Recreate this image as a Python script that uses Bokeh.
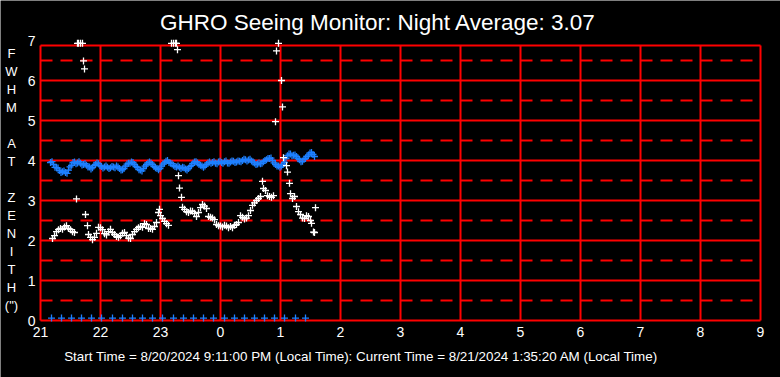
from bokeh.plotting import figure
from bokeh.models import Label, Range1d
from bokeh.core.properties import value
from bokeh.embed import file_html
from bokeh.resources import INLINE

# ---------------- text ----------------
title_text = "GHRO Seeing Monitor: Night Average: 3.07"
footer_text = ("Start Time = 8/20/2024 9:11:00 PM (Local Time): "
               "Current Time = 8/21/2024 1:35:20 AM (Local Time)")
y_label_chars = ["F", "W", "H", "M", "", "A", "T", "", "Z", "E", "N", "I", "T", "H", "(\")"]

# ---------------- axes ----------------
x_ticks = [21, 22, 23, 24, 25, 26, 27, 28, 29, 30, 31, 32, 33]
x_tick_labels = ["21", "22", "23", "0", "1", "2", "3", "4", "5", "6", "7", "8", "9"]
y_ticks = [0, 1, 2, 3, 4, 5, 6, 7]
y_tick_labels = ["0", "1", "2", "3", "4", "5", "6", "7"]
y_half_lines = [0.5, 1.5, 2.5, 3.5, 4.5, 5.5, 6.5]
y_solid_lines = [0, 1, 2, 3, 4, 5, 6, 6.875]
frame_top = 6.875
start_hour = 21

# ---------------- data (minutes after 21:00, FWHM arcsec) ----------------
blue_minutes = list(range(10, 275, 3))
blue_fwhm = [
    3.95, 3.90, 3.82, 3.75, 3.72, 3.70, 3.76, 3.88, 3.96, 3.94,
    3.93, 3.90, 3.88, 3.84, 3.82, 3.90, 3.92, 3.85, 3.84, 3.83,
    3.82, 3.84, 3.86, 3.80, 3.77, 3.86, 3.93, 3.96, 3.90, 3.82,
    3.76, 3.80, 3.90, 3.96, 3.90, 3.82, 3.77, 3.86, 3.94, 4.00,
    3.93, 3.88, 3.84, 3.83, 3.83, 3.79, 3.80, 3.88, 3.96, 3.94,
    3.88, 3.83, 3.90, 3.96, 3.95, 3.93, 3.96, 3.95, 3.97, 3.94,
    3.96, 3.98, 3.96, 3.98, 4.00, 4.02, 4.01, 3.99, 3.94, 3.91,
    3.92, 3.97, 4.02, 4.05, 4.00, 3.90, 3.86, 3.86, 3.95, 4.12,
    4.16, 4.13, 4.10, 4.02, 3.98, 4.05, 4.14, 4.20, 4.10,
]
blue_minutes_b = [x + 1.5 for x in range(10, 273, 3)]
blue_fwhm_b = [
    3.97, 3.83, 3.81, 3.70, 3.74, 3.68, 3.84, 3.95, 3.92, 3.97,
    3.89, 3.92, 3.84, 3.79, 3.88, 3.94, 3.87, 3.81, 3.86, 3.80,
    3.85, 3.82, 3.84, 3.76, 3.80, 3.91, 3.93, 3.95, 3.85, 3.77,
    3.74, 3.86, 3.94, 3.94, 3.85, 3.80, 3.80, 3.91, 3.98, 3.95,
    3.92, 3.85, 3.86, 3.80, 3.82, 3.76, 3.85, 3.93, 3.97, 3.90,
    3.86, 3.86, 3.94, 3.93, 3.97, 3.92, 3.98, 3.93, 3.99, 3.93,
    3.99, 3.95, 3.99, 3.97, 4.03, 3.99, 4.03, 3.96, 3.90, 3.94,
    3.93, 4.00, 4.05, 4.06, 3.94, 3.86, 3.83, 3.90, 4.05, 4.16,
    4.12, 4.14, 4.05, 3.97, 4.03, 4.10, 4.19, 4.15,
]

white_minutes = [
    12, 14, 16, 18, 20, 22, 24, 26, 28, 30, 32, 34, 36, 37, 38, 40, 42, 43, 44, 45,
    47, 48, 50, 52, 54, 56, 58, 60, 62, 64, 66, 68, 70, 72, 74, 76, 78, 80, 82, 84,
    86, 88, 90, 92, 94, 96, 98, 100, 102, 104, 106, 108, 110, 112, 114, 116, 118, 119, 120, 122,
    124, 126, 128, 131, 133, 135, 136, 137, 138, 139, 141, 142, 144, 146, 148, 150, 152, 154, 156, 158,
    160, 162, 164, 166, 168, 170, 172, 174, 176, 178, 180, 182, 184, 186, 188, 190, 192, 194, 196, 198,
    200, 202, 204, 206, 208, 210, 212, 214, 216, 218, 220, 222, 223, 225, 227, 229, 231, 233, 235, 236,
    238, 241, 242, 243, 246, 247, 249, 250, 252, 254, 256, 258, 260, 262, 264, 266, 268, 270, 271, 273,
    274, 275,
]
white_fwhm = [
    2.05, 2.12, 2.22, 2.27, 2.30, 2.28, 2.34, 2.37, 2.30, 2.27, 2.22, 2.20, 3.04, 6.93, 6.93, 6.93, 6.93, 6.49, 6.29, 2.65,
    2.37, 2.15, 2.08, 2.02, 2.08, 2.18, 2.33, 2.32, 2.27, 2.17, 2.14, 2.22, 2.28, 2.20, 2.15, 2.10, 2.08, 2.12, 2.18, 2.20,
    2.12, 2.06, 2.05, 2.15, 2.22, 2.28, 2.32, 2.35, 2.33, 2.42, 2.40, 2.30, 2.30, 2.28, 2.35, 2.45, 2.70, 2.78, 2.62, 2.55,
    2.48, 2.42, 2.38, 6.93, 6.93, 6.93, 6.93, 6.77, 3.62, 3.31, 3.08, 2.83, 2.78, 2.72, 2.70, 2.74, 2.73, 2.68, 2.60, 2.70,
    2.82, 2.90, 2.86, 2.80, 2.60, 2.58, 2.56, 2.52, 2.40, 2.37, 2.36, 2.34, 2.38, 2.36, 2.32, 2.35, 2.32, 2.38, 2.40, 2.45,
    2.62, 2.58, 2.54, 2.56, 2.62, 2.75, 2.88, 2.94, 3.00, 3.05, 3.10, 3.48, 3.30, 3.25, 3.12, 3.10, 3.08, 3.12, 4.97, 6.74,
    6.93, 6.00, 5.34, 4.07, 3.87, 3.71, 3.43, 3.17, 3.05, 3.10, 2.85, 2.72, 2.65, 2.56, 2.55, 2.62, 2.60, 2.50, 2.43, 2.21,
    2.20, 2.82,
]

marker_minutes = [11, 21, 31, 41, 51, 61, 72, 82, 92, 102, 112, 122, 133,
                  143, 153, 163, 173, 184, 194, 204, 214, 224, 234, 244, 255, 265]
marker_level = 0.06

# ---------------- colours / fonts ----------------
RED = "#FF0000"
BLUE = "#1E80FF"
WHITE = "#FFFFFF"
FONT = "Liberation Sans"

# ---------------- layout (pixels) ----------------
W, H = 780, 377
PX_LEFT, PX_RIGHT = 40, 760        # x = 21 .. 33
PX_BOTTOM = 320                    # y = 0
PX_PER_UNIT_Y = 40
px_per_hour = (PX_RIGHT - PX_LEFT) / (x_ticks[-1] - x_ticks[0])
x_start = x_ticks[0] - PX_LEFT / px_per_hour
x_end = x_ticks[0] + (W - PX_LEFT) / px_per_hour
y_start = -(H - PX_BOTTOM) / PX_PER_UNIT_Y
y_end = PX_BOTTOM / PX_PER_UNIT_Y


def to_hours(mins):
    return [start_hour + mm / 60.0 for mm in mins]


p = figure(width=W, height=H, output_backend="svg", toolbar_location=None, title=None,
           x_range=Range1d(x_start, x_end), y_range=Range1d(y_start, y_end),
           min_border=0, min_border_left=0, min_border_right=0,
           min_border_top=0, min_border_bottom=0)
p.background_fill_color = "black"
p.border_fill_color = "black"
p.outline_line_color = None
p.xaxis.visible = False
p.yaxis.visible = False
p.xgrid.grid_line_color = None
p.ygrid.grid_line_color = None

# grid / frame lines
n = len(x_ticks)
p.segment(x0=x_ticks, y0=[0] * n, x1=x_ticks, y1=[frame_top] * n,
          line_color=RED, line_width=2)
m = len(y_solid_lines)
p.segment(x0=[x_ticks[0]] * m, y0=y_solid_lines, x1=[x_ticks[-1]] * m, y1=y_solid_lines,
          line_color=RED, line_width=2)
k = len(y_half_lines)
p.segment(x0=[x_ticks[0]] * k, y0=y_half_lines, x1=[x_ticks[-1]] * k, y1=y_half_lines,
          line_color=RED, line_width=2, line_dash="12 8")

# tick labels
p.text(x=x_ticks, y=[0] * n, text=x_tick_labels, y_offset=11,
       text_color=WHITE, text_font=value(FONT), text_font_size="14px",
       text_align="center", text_baseline="middle")
p.text(x=[x_ticks[0]] * len(y_ticks), y=y_ticks, text=y_tick_labels, x_offset=-5,
       text_color=WHITE, text_font=value(FONT), text_font_size="14px",
       text_align="right", text_baseline="middle")

# data
p.scatter(to_hours(blue_minutes), blue_fwhm, marker="cross", size=7,
          line_color=BLUE, line_width=1.3)
p.scatter(to_hours(blue_minutes_b), blue_fwhm_b, marker="cross", size=7,
          line_color=BLUE, line_width=1.3)
p.scatter(to_hours(white_minutes), white_fwhm, marker="cross", size=7,
          line_color=WHITE, line_width=1.3)
p.scatter(to_hours(marker_minutes), [marker_level] * len(marker_minutes), marker="cross",
          size=7, line_color=BLUE, line_width=1.3)

# texts (screen units, frame == canvas, y measured from the bottom)
p.add_layout(Label(x=377.5, y=H - 22, x_units="screen", y_units="screen", text=title_text,
                   text_color=WHITE, text_font=FONT, text_font_size="22.5px",
                   text_align="center", text_baseline="middle"))
p.add_layout(Label(x=361, y=H - 355.5, x_units="screen", y_units="screen", text=footer_text,
                   text_color=WHITE, text_font=FONT, text_font_size="13.4px",
                   text_align="center", text_baseline="middle"))
for i, ch in enumerate(y_label_chars):
    if ch:
        p.add_layout(Label(x=11, y=H - (53.3 + 18 * i), x_units="screen", y_units="screen",
                           text=ch, text_color=WHITE, text_font=FONT, text_font_size="13px",
                           text_align="center", text_baseline="middle"))

open("out.html", "w").write(file_html(p, INLINE))
